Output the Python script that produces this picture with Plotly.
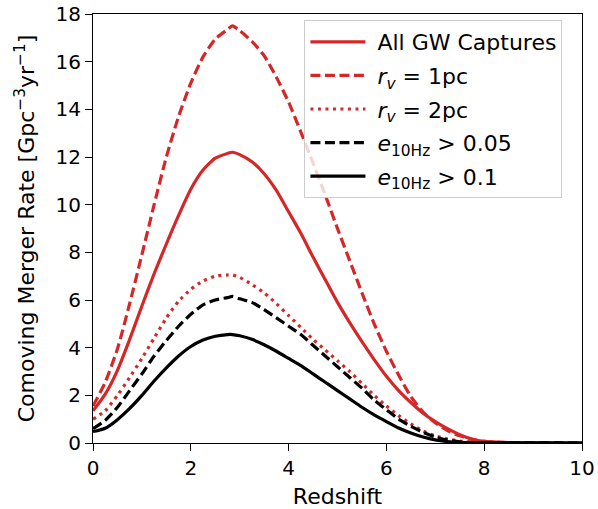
import plotly.graph_objects as go

# Redshift grid shared by all rate curves
redshift = [0.0, 0.25, 0.5, 0.75, 1.0, 1.25, 1.5, 1.75, 2.0, 2.25, 2.5, 2.75, 2.85, 3.0,
            3.25, 3.5, 3.75, 4.0, 4.25, 4.5, 4.75, 5.0, 5.25, 5.5, 5.75, 6.0, 6.25, 6.5,
            6.75, 7.0, 7.25, 7.5, 7.75, 8.0, 8.5, 9.0, 9.5, 10.0]

# Comoving merger rates [Gpc^-3 yr^-1]
rate_all = [1.35, 2.05, 3.05, 4.35, 5.75, 7.1, 8.35, 9.55, 10.65, 11.45, 11.95, 12.15, 12.2, 12.1,
            11.8, 11.3, 10.6, 9.7, 8.8, 7.8, 6.85, 5.9, 5.05, 4.25, 3.5, 2.8, 2.2, 1.7,
            1.25, 0.9, 0.6, 0.35, 0.17, 0.07, 0.02, 0.01, 0.005, 0.003]
rate_rv1 = [1.55, 2.55, 3.95, 5.85, 7.9, 10.0, 12.0, 13.7, 15.1, 16.2, 16.95, 17.35, 17.5, 17.3,
            16.85, 16.25, 15.35, 14.3, 13.05, 11.75, 10.4, 9.0, 7.65, 6.3, 5.0, 3.85, 2.85, 1.95,
            1.3, 0.85, 0.52, 0.3, 0.15, 0.07, 0.02, 0.01, 0.005, 0.003]
rate_rv2 = [1.0, 1.35, 2.0, 2.75, 3.55, 4.4, 5.25, 5.95, 6.45, 6.8, 7.0, 7.05, 7.05, 6.95,
            6.65, 6.3, 5.85, 5.35, 4.85, 4.35, 3.9, 3.45, 3.0, 2.5, 2.0, 1.55, 1.15, 0.8,
            0.5, 0.3, 0.17, 0.08, 0.04, 0.02, 0.01, 0.005, 0.003, 0.002]
rate_e005 = [0.6, 0.95, 1.5, 2.2, 2.9, 3.65, 4.3, 4.9, 5.4, 5.8, 6.0, 6.1, 6.15, 6.05,
             5.9, 5.6, 5.25, 4.9, 4.55, 4.1, 3.65, 3.2, 2.75, 2.3, 1.8, 1.4, 1.0, 0.7,
             0.45, 0.25, 0.12, 0.05, 0.02, 0.01, 0.005, 0.003, 0.002, 0.001]
rate_e01 = [0.48, 0.62, 0.98, 1.45, 2.0, 2.6, 3.15, 3.65, 4.05, 4.32, 4.48, 4.55, 4.55, 4.5,
            4.35, 4.12, 3.85, 3.55, 3.25, 2.9, 2.55, 2.2, 1.85, 1.5, 1.18, 0.9, 0.63, 0.42,
            0.25, 0.13, 0.06, 0.03, 0.015, 0.01, 0.004, 0.002, 0.001, 0.001]

x_ticks = [0, 2, 4, 6, 8, 10]
y_ticks = [0, 2, 4, 6, 8, 10, 12, 14, 16, 18]

RED = "#d62728"
BLACK = "#000000"
FONT = "DejaVu Sans"
TICK_FS = 20
LABEL_FS = 22
NBSP = "\u00a0"

series = [
    ("All GW Captures", rate_all, RED, "solid"),
    ("<i>r</i><sub><i>v</i></sub> = 1pc", rate_rv1, RED, "10px,4.5px"),
    ("<i>r</i><sub><i>v</i></sub> = 2pc", rate_rv2, RED, "3px,4.5px"),
    ("<i>e</i><sub>10Hz</sub> > 0.05", rate_e005, BLACK, "10px,4.5px"),
    ("<i>e</i><sub>10Hz</sub> > 0.1", rate_e01, BLACK, "solid"),
]

fig = go.Figure()
for i, (name, values, color, dash) in enumerate(series):
    fig.add_trace(go.Scatter(
        x=redshift, y=values, mode="lines", name=NBSP + name,
        legendgroup=f"g{i}",
        line=dict(color=color, width=3.2, dash=dash, shape="spline", smoothing=0.6),
    ))

axis_common = dict(
    showgrid=False, zeroline=False, automargin=False,
    showline=True, linecolor="black", linewidth=1.2, mirror=True,
    ticks="outside", ticklen=7, tickwidth=1.2, tickcolor="black",
    tickfont=dict(family=FONT, size=TICK_FS, color="black"),
)

fig.update_layout(
    template="none",
    width=598, height=509,
    margin=dict(l=93, r=16, t=14, b=66),
    paper_bgcolor="white", plot_bgcolor="white",
    font=dict(family=FONT, color="black", size=TICK_FS),
    xaxis=dict(range=[0, 10], tickvals=x_ticks,
               title=dict(text="Redshift", font=dict(family=FONT, size=LABEL_FS), standoff=14),
               **axis_common),
    yaxis=dict(range=[0, 18], tickvals=y_ticks,
               title=dict(text="Comoving Merger Rate [Gpc<sup>−3</sup>yr<sup>−1</sup>]",
                          font=dict(family=FONT, size=LABEL_FS), standoff=14),
               **axis_common),
    legend=dict(
        x=0.96, y=0.986, xanchor="right", yanchor="top",
        bgcolor="rgba(255,255,255,0.8)", bordercolor="#cccccc", borderwidth=1,
        font=dict(family=FONT, size=LABEL_FS, color="black"),
        tracegroupgap=2, itemwidth=55,
    ),
)

fig.write_html("out.html")
